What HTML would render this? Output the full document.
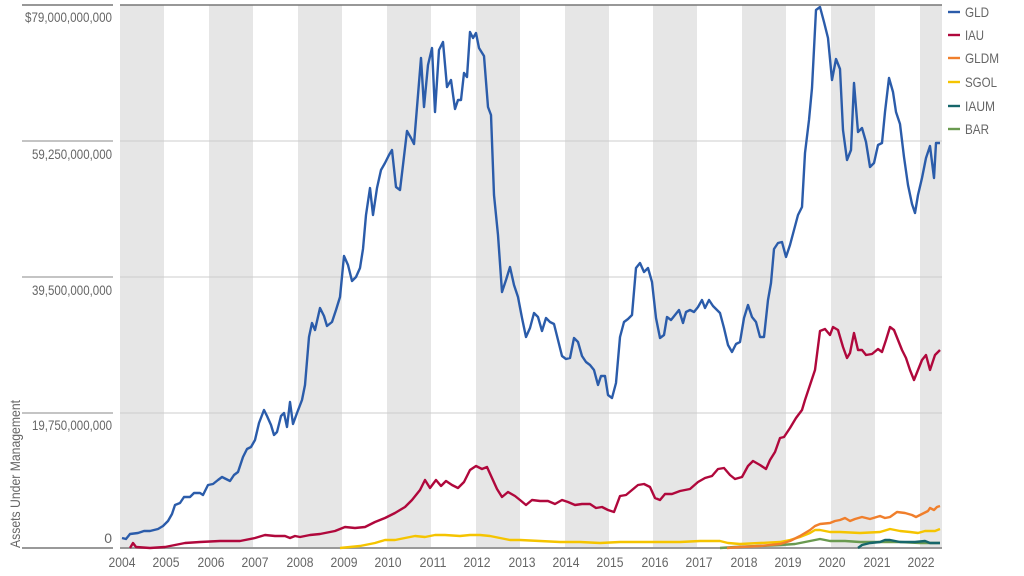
<!DOCTYPE html>
<html><head><meta charset="utf-8"><style>
html,body{margin:0;padding:0;background:#fff;width:1024px;height:576px;overflow:hidden}
text{font-family:"Liberation Sans",sans-serif;fill:#666}
</style></head><body>
<svg width="1024" height="576" viewBox="0 0 1024 576" xmlns="http://www.w3.org/2000/svg">
<g fill="#e6e6e6">
<rect x="120" y="5" width="44" height="543"/>
<rect x="209" y="5" width="44" height="543"/>
<rect x="298" y="5" width="44" height="543"/>
<rect x="387" y="5" width="44" height="543"/>
<rect x="476" y="5" width="44" height="543"/>
<rect x="565" y="5" width="44" height="543"/>
<rect x="653" y="5" width="44" height="543"/>
<rect x="742" y="5" width="44" height="543"/>
<rect x="831" y="5" width="44" height="543"/>
<rect x="920" y="5" width="22" height="543"/>
</g>
<g stroke="#ccc" stroke-width="1">
<line x1="120" y1="141" x2="942" y2="141"/><line x1="120" y1="277" x2="942" y2="277"/><line x1="120" y1="413" x2="942" y2="413"/>
</g>
<g stroke="#888" stroke-width="1">
<line x1="22" y1="141" x2="113" y2="141"/><line x1="22" y1="277" x2="113" y2="277"/><line x1="22" y1="413" x2="113" y2="413"/>
</g>
<line x1="22" y1="5" x2="113" y2="5" stroke="#777" stroke-width="1.5"/>
<line x1="120" y1="5" x2="942" y2="5" stroke="#777" stroke-width="1.5"/>
<line x1="22" y1="548" x2="113" y2="548" stroke="#999" stroke-width="2"/>
<line x1="120" y1="548" x2="942" y2="548" stroke="#999" stroke-width="2"/>
<g font-size="14" text-anchor="end" lengthAdjust="spacingAndGlyphs">
<text x="112" y="22" textLength="87" lengthAdjust="spacingAndGlyphs">$79,000,000,000</text>
<text x="112" y="159" textLength="80" lengthAdjust="spacingAndGlyphs">59,250,000,000</text>
<text x="112" y="295" textLength="80" lengthAdjust="spacingAndGlyphs">39,500,000,000</text>
<text x="112" y="430" textLength="80" lengthAdjust="spacingAndGlyphs">19,750,000,000</text>
<text x="112" y="543">0</text>
</g>
<text transform="translate(20,548) rotate(-90)" font-size="14" fill="#aaa" textLength="148" lengthAdjust="spacingAndGlyphs">Assets Under Management</text>
<g font-size="14" text-anchor="middle">
<text x="122" y="567" textLength="27" lengthAdjust="spacingAndGlyphs">2004</text><text x="166" y="567" textLength="27" lengthAdjust="spacingAndGlyphs">2005</text><text x="211" y="567" textLength="27" lengthAdjust="spacingAndGlyphs">2006</text><text x="255" y="567" textLength="27" lengthAdjust="spacingAndGlyphs">2007</text><text x="300" y="567" textLength="27" lengthAdjust="spacingAndGlyphs">2008</text><text x="344" y="567" textLength="27" lengthAdjust="spacingAndGlyphs">2009</text><text x="388" y="567" textLength="27" lengthAdjust="spacingAndGlyphs">2010</text><text x="433" y="567" textLength="27" lengthAdjust="spacingAndGlyphs">2011</text><text x="477" y="567" textLength="27" lengthAdjust="spacingAndGlyphs">2012</text><text x="522" y="567" textLength="27" lengthAdjust="spacingAndGlyphs">2013</text><text x="566" y="567" textLength="27" lengthAdjust="spacingAndGlyphs">2014</text><text x="610" y="567" textLength="27" lengthAdjust="spacingAndGlyphs">2015</text><text x="655" y="567" textLength="27" lengthAdjust="spacingAndGlyphs">2016</text><text x="699" y="567" textLength="27" lengthAdjust="spacingAndGlyphs">2017</text><text x="744" y="567" textLength="27" lengthAdjust="spacingAndGlyphs">2018</text><text x="788" y="567" textLength="27" lengthAdjust="spacingAndGlyphs">2019</text><text x="832" y="567" textLength="27" lengthAdjust="spacingAndGlyphs">2020</text><text x="877" y="567" textLength="27" lengthAdjust="spacingAndGlyphs">2021</text><text x="921" y="567" textLength="27" lengthAdjust="spacingAndGlyphs">2022</text>
</g>
<g fill="none" stroke-width="2.4" stroke-linejoin="round">
<polyline stroke="#6a9a50" points="720,548 735,547 760,546 780,545 795,544 805,542 815,540 820,539 830,541 845,541 860,542 880,542 900,542 920,543 940,543"/>
<polyline stroke="#16666a" points="858,548 862,545 870,543 880,542 885,540 890,540 900,542 915,542 925,541 930,543 940,543"/>
<polyline stroke="#f5c400" points="340,548 350,547 360,546 375,543 385,540 395,540 405,538 415,536 425,537 435,535 445,535 460,536 470,535 480,535 490,536 500,538 510,540 520,540 540,541 560,542 580,542 600,543 620,542 640,542 660,542 680,542 700,541 720,541 728,543 740,544 760,543 780,542 790,540 800,537 810,533 815,530 820,530 830,532 840,532 860,533 880,532 890,529 900,531 910,532 918,533 925,531 935,531 940,529"/>
<polyline stroke="#f07f2c" points="727,548 740,547 760,546 780,544 790,541 800,536 810,530 815,526 820,524 830,523 835,521 840,520 845,518 850,521 855,519 862,517 870,519 880,516 885,518 890,517 897,512 905,513 912,515 916,517 922,514 928,511 930,508 934,510 937,507 940,506"/>
<polyline stroke="#b0083c" points="130,548 133,543 136,547 150,548 165,547 175,545 185,543 200,542 220,541 240,541 255,538 265,535 275,536 285,536 290,538 295,536 300,537 310,535 320,534 335,531 345,527 355,528 365,527 375,522 385,518 395,513 405,507 412,500 420,490 425,480 430,488 436,480 441,486 446,481 452,485 458,488 464,482 470,470 476,466 482,469 487,467 492,478 497,489 502,497 508,492 515,496 520,500 526,505 532,500 540,501 548,501 555,504 562,500 568,502 575,505 582,504 590,504 596,508 602,507 608,510 614,512 620,496 626,495 632,490 638,485 644,484 650,487 655,498 660,500 665,494 672,494 680,491 690,489 698,482 705,478 712,476 718,469 724,468 730,475 735,479 742,477 748,466 753,461 760,465 766,469 770,460 775,452 780,438 784,437 790,428 796,418 802,410 805,400 810,385 815,370 820,331 825,329 830,335 833,327 838,330 843,347 847,358 850,353 854,333 858,350 862,350 866,355 872,354 878,349 882,352 886,340 890,327 894,330 898,340 902,350 906,358 910,370 914,380 918,370 922,360 926,355 930,370 935,355 940,350"/>
<polyline stroke="#2b5caa" points="122,538 126,539 130,534 138,533 144,531 150,531 158,529 163,526 168,521 172,514 175,505 180,503 184,497 190,497 194,493 200,493 203,495 208,485 213,484 218,480 222,477 226,479 230,481 234,475 238,472 243,457 247,449 251,447 255,440 259,423 264,410 267,416 271,425 274,435 277,432 281,416 284,413 287,427 290,402 293,424 297,413 302,400 305,385 309,337 312,323 315,330 320,308 324,316 327,326 332,322 336,310 340,297 344,256 348,265 352,281 356,277 360,268 363,249 366,215 370,188 373,215 377,188 381,170 385,163 389,155 392,150 396,187 400,190 403,165 407,131 411,138 414,144 418,95 421,58 424,107 428,65 432,48 435,112 439,50 443,42 447,87 451,80 455,109 458,100 461,100 464,73 467,77 470,32 473,38 476,33 479,48 484,56 488,107 491,115 494,195 498,235 502,292 506,280 510,267 514,285 518,297 522,318 526,337 530,328 534,313 538,317 542,331 546,318 550,322 554,324 558,340 562,356 566,359 570,358 574,338 578,342 582,356 586,362 590,365 594,370 598,385 601,376 605,376 608,395 612,398 616,383 620,337 624,322 628,319 632,315 636,268 640,263 644,272 648,268 652,282 656,318 660,338 664,335 667,317 671,320 675,315 679,310 683,323 686,312 690,310 694,312 698,307 702,300 705,308 709,300 713,306 717,310 720,313 724,328 728,345 732,352 736,344 740,342 744,318 748,305 752,317 756,322 760,337 764,337 768,300 771,283 774,249 778,243 782,242 786,257 790,245 794,230 798,215 802,207 805,153 809,120 812,88 816,10 820,7 824,22 828,38 832,80 836,59 840,69 843,130 847,160 851,150 854,83 858,132 862,128 866,142 870,167 874,163 878,145 882,143 885,112 889,78 893,92 896,112 900,124 904,157 908,185 912,204 915,213 918,195 922,178 926,158 930,146 934,178 936,143 940,143"/>
</g>
<g stroke-width="2.4">
<line x1="948" y1="12" x2="960" y2="12" stroke="#2b5caa"/>
<line x1="948" y1="35" x2="960" y2="35" stroke="#b0083c"/>
<line x1="948" y1="58" x2="960" y2="58" stroke="#f07f2c"/>
<line x1="948" y1="82" x2="960" y2="82" stroke="#f5c400"/>
<line x1="948" y1="106" x2="960" y2="106" stroke="#16666a"/>
<line x1="948" y1="129" x2="960" y2="129" stroke="#6a9a50"/>
</g>
<g font-size="14">
<text x="965" y="17" textLength="24" lengthAdjust="spacingAndGlyphs">GLD</text><text x="965" y="40" textLength="19" lengthAdjust="spacingAndGlyphs">IAU</text><text x="965" y="63" textLength="34" lengthAdjust="spacingAndGlyphs">GLDM</text><text x="965" y="87" textLength="32" lengthAdjust="spacingAndGlyphs">SGOL</text><text x="965" y="111" textLength="30" lengthAdjust="spacingAndGlyphs">IAUM</text><text x="965" y="134" textLength="24" lengthAdjust="spacingAndGlyphs">BAR</text>
</g>
</svg>
</body></html>
